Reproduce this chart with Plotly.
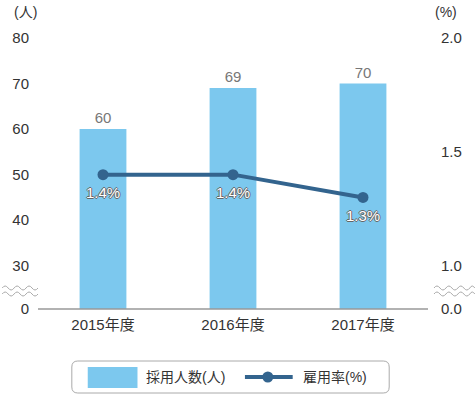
import plotly.graph_objects as go

# ---- data ----
categories = ["2015年度", "2016年度", "2017年度"]
hires = [60, 69, 70]
rate = [1.4, 1.4, 1.3]
rate_labels = ["1.4%", "1.4%", "1.3%"]
left_ticks = [30, 40, 50, 60, 70, 80]
right_ticks = [1.0, 1.5, 2.0]

# ---- layout geometry ----
W, H = 475, 394
L_PX, R_PX, T_PX, B_PX = 36, 428, 38, 309
LEFT_BREAK = 20.5          # where "0" sits on the broken left axis
RIGHT_BREAK = 0.81         # where "0.0" sits on the broken right axis
FONT = "Liberation Sans, Arial, Noto Sans CJK JP, sans-serif"


def px(x):
    return (x - L_PX) / (R_PX - L_PX)


def py(y):
    return (B_PX - y) / (B_PX - T_PX)


fig = go.Figure()

fig.add_trace(go.Bar(
    x=categories, y=hires, name="採用人数(人)",
    marker=dict(color="#7cc8ee", line=dict(width=0)),
    text=[str(v) for v in hires], textposition="outside",
    textfont=dict(color="#777777", size=15, family=FONT),
    cliponaxis=False, yaxis="y", showlegend=False, hoverinfo="skip",
))

fig.add_trace(go.Scatter(
    x=categories, y=rate, name="雇用率(%)", yaxis="y2",
    mode="lines+markers",
    line=dict(color="#33648e", width=4),
    marker=dict(color="#33648e", size=11),
    cliponaxis=False, showlegend=False, hoverinfo="skip",
))

shapes = []
# baseline axis line
shapes.append(dict(type="line", xref="paper", yref="paper", x0=0, x1=1, y0=0, y1=0,
                   line=dict(color="#999999", width=1.5)))


def wave(x0, x1, y, amp=2.0, period=12.0):
    pts = [f"M{px(x0)},{py(y)}"]
    x = x0
    sign = 1
    half = period / 2
    while x < x1 - 0.01:
        xn = min(x + half, x1)
        cx = (x + xn) / 2
        pts.append(f"Q{px(cx)},{py(y - sign * amp * 2)} {px(xn)},{py(y)}")
        x = xn
        sign = -sign
    return " ".join(pts)


for (a, b) in [(0, 36), (434, 475)]:
    for yy in (288, 294):
        shapes.append(dict(type="path", xref="paper", yref="paper", path=wave(a, b, yy),
                           line=dict(color="#aaaaaa", width=1)))

# custom legend box (rounded)
bx0, bx1, by0, by1, r = 70, 389, 361, 393, 6
path = (f"M{px(bx0 + r)},{py(by0)} L{px(bx1 - r)},{py(by0)} Q{px(bx1)},{py(by0)} {px(bx1)},{py(by0 + r)} "
        f"L{px(bx1)},{py(by1 - r)} Q{px(bx1)},{py(by1)} {px(bx1 - r)},{py(by1)} "
        f"L{px(bx0 + r)},{py(by1)} Q{px(bx0)},{py(by1)} {px(bx0)},{py(by1 - r)} "
        f"L{px(bx0)},{py(by0 + r)} Q{px(bx0)},{py(by0)} {px(bx0 + r)},{py(by0)} Z")
shapes.append(dict(type="path", xref="paper", yref="paper", path=path,
                   line=dict(color="#aaaaaa", width=1), fillcolor="rgba(0,0,0,0)"))
shapes.append(dict(type="rect", xref="paper", yref="paper", x0=px(86), x1=px(136), y0=py(388), y1=py(367),
                   fillcolor="#7cc8ee", line=dict(width=0)))
shapes.append(dict(type="line", xref="paper", yref="paper", x0=px(244), x1=px(292), y0=py(377), y1=py(377),
                   line=dict(color="#33648e", width=4)))
shapes.append(dict(type="circle", xref="paper", yref="paper", x0=px(261.5), x1=px(272.5), y0=py(382.5), y1=py(371.5),
                   fillcolor="#33648e", line=dict(width=0)))

annotations = [
    dict(text="採用人数(人)", x=px(143), y=py(377), xref="paper", yref="paper", xanchor="left", yanchor="middle",
         showarrow=False, font=dict(size=14, color="#333333", family=FONT)),
    dict(text="雇用率(%)", x=px(300), y=py(377), xref="paper", yref="paper", xanchor="left", yanchor="middle",
         showarrow=False, font=dict(size=14, color="#333333", family=FONT)),
    dict(text="(人)", x=px(10), y=py(12), xref="paper", yref="paper", xanchor="left", yanchor="middle",
         showarrow=False, font=dict(size=14, color="#333333", family=FONT)),
    dict(text="(%)", x=px(433), y=py(12), xref="paper", yref="paper", xanchor="left", yanchor="middle",
         showarrow=False, font=dict(size=14, color="#333333", family=FONT)),
]

# line value labels placed on the data scale, just below each point
for c, v, t in zip(categories, rate, rate_labels):
    annotations.append(dict(
        text=t, x=c, y=v, xref="x", yref="y2", showarrow=False, yshift=-18,
        xanchor="center", yanchor="middle",
        font=dict(size=15, color="#ffffff", family=FONT,
                  shadow="1px 0 0 #666, -1px 0 0 #666, 0 1px 0 #666, 0 -1px 0 #666"),
    ))

fig.update_layout(
    width=W, height=H,
    margin=dict(l=L_PX, r=W - R_PX, t=T_PX, b=H - B_PX, pad=0),
    paper_bgcolor="white", plot_bgcolor="white",
    font=dict(family=FONT, size=15, color="#333333"),
    bargap=0.64,
    hovermode=False,
    xaxis=dict(showgrid=False, zeroline=False, showline=False, ticks="", ticklabelstandoff=5,
               tickfont=dict(size=15, color="#333333", family=FONT)),
    yaxis=dict(range=[LEFT_BREAK, 80], showgrid=False, zeroline=False, showline=False,
               tickvals=[LEFT_BREAK] + left_ticks,
               ticktext=["0"] + [str(v) for v in left_ticks],
               ticks="", ticklabelstandoff=8,
               tickfont=dict(size=15, color="#333333", family=FONT)),
    yaxis2=dict(range=[RIGHT_BREAK, 2.0], overlaying="y", side="right", showgrid=False, zeroline=False,
                showline=False,
                tickvals=[RIGHT_BREAK] + right_ticks,
                ticktext=["0.0"] + [f"{v:.1f}" for v in right_ticks],
                ticks="", ticklabelstandoff=12,
                tickfont=dict(size=15, color="#333333", family=FONT)),
    shapes=shapes, annotations=annotations,
    showlegend=False,
)

fig.write_html("out.html", config={"displayModeBar": False, "staticPlot": True},
               post_script="document.body.style.margin='0';document.body.style.padding='0';")
